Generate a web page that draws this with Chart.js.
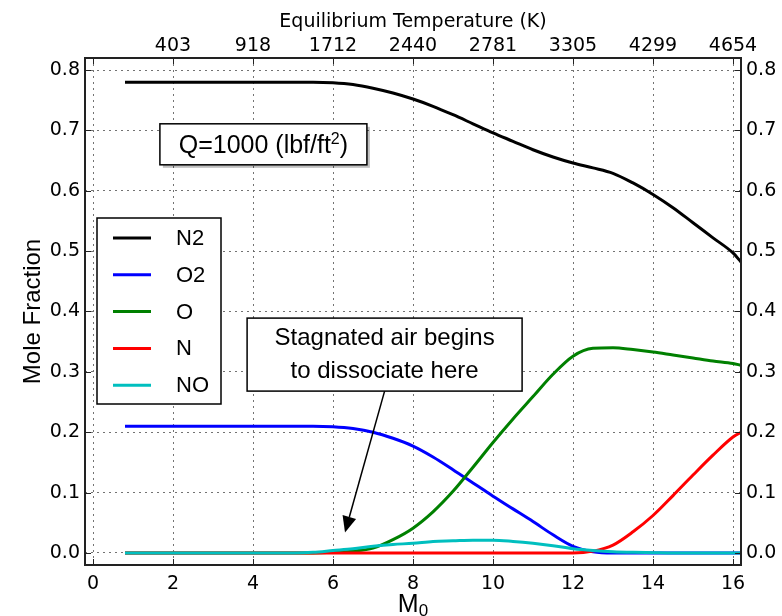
<!DOCTYPE html>
<html>
<head>
<meta charset="utf-8">
<script src="https://cdn.jsdelivr.net/npm/chart.js@4.4.0/dist/chart.umd.min.js"></script>
<style>
  html, body { margin: 0; padding: 0; background: #fff; }
  canvas { display: block; }
</style>
</head>
<body>
<canvas id="chart" width="782" height="616"></canvas>
<script>
// Mach number (free stream) samples
const machNumbers = [0.8, 2, 4, 5, 5.5, 6, 6.5, 7, 7.5, 8, 8.5, 9, 9.5, 10, 10.5, 11, 11.5, 12, 12.5, 13, 13.5, 14, 14.5, 15, 15.5, 16, 16.2];

// mole fractions per species
const n2Fraction = [0.78, 0.78, 0.78, 0.78, 0.78, 0.779, 0.776, 0.770, 0.762, 0.752, 0.740, 0.726, 0.711, 0.696, 0.682, 0.668, 0.656, 0.646, 0.638, 0.629, 0.613, 0.594, 0.572, 0.547, 0.522, 0.497, 0.482];
const o2Fraction = [0.21, 0.21, 0.21, 0.21, 0.21, 0.209, 0.206, 0.200, 0.190, 0.177, 0.159, 0.138, 0.116, 0.094, 0.073, 0.052, 0.030, 0.011, 0.002, 0, 0, 0, 0, 0, 0, 0, 0];
const oFraction = [0, 0, 0, 0, 0, 0.001, 0.003, 0.008, 0.022, 0.041, 0.068, 0.102, 0.142, 0.183, 0.222, 0.259, 0.296, 0.326, 0.339, 0.340, 0.337, 0.333, 0.328, 0.323, 0.318, 0.314, 0.311];
const nFraction = [0, 0, 0, 0, 0, 0, 0, 0, 0, 0, 0, 0, 0, 0, 0, 0, 0, 0, 0.003, 0.013, 0.035, 0.062, 0.095, 0.129, 0.162, 0.192, 0.200];
const noFraction = [0, 0, 0, 0, 0.001, 0.004, 0.007, 0.011, 0.014, 0.016, 0.019, 0.020, 0.021, 0.021, 0.019, 0.016, 0.012, 0.007, 0.004, 0.002, 0.001, 0.0005, 0, 0, 0, 0, 0];

const speciesNames = ['N2', 'O2', 'O', 'N', 'NO'];
const speciesColors = ['#000000', '#0000ff', '#008000', '#ff0000', '#00bfbf'];

// axis ticks
const machTicks = [0, 2, 4, 6, 8, 10, 12, 14, 16];
const tempLabels = ['403', '918', '1712', '2440', '2781', '3305', '4299', '4654'];
const fractionTicks = [0, 0.1, 0.2, 0.3, 0.4, 0.5, 0.6, 0.7, 0.8];

const seriesValues = [n2Fraction, o2Fraction, oFraction, nFraction, noFraction];

function toPoints(values) {
  return machNumbers.map(function (m, i) {
    return { x: m, y: values[i] };
  });
}

const tickFont = { family: '"DejaVu Sans", sans-serif', size: 19 };
const gridColor = 'rgba(100, 100, 100, 0.9)';

function fixedTicks(list) {
  return function (scale) {
    scale.ticks = list.map(function (v) {
      return { value: v };
    });
  };
}

// Draws frame, inward ticks, titles, legend and the text boxes
const overlayPlugin = {
  id: 'overlay',
  afterDraw(chart) {
    const ctx = chart.ctx;
    const a = chart.chartArea;
    const px = (v) => chart.scales.x.getPixelForValue(v);
    const py = (v) => chart.scales.y.getPixelForValue(v);
    ctx.save();

    // inward tick marks
    ctx.strokeStyle = '#222';
    ctx.lineWidth = 1;
    ctx.beginPath();
    machTicks.forEach(function (v) {
      let x = Math.round(px(v)) + 0.5;
      ctx.moveTo(x, a.bottom);
      ctx.lineTo(x, a.bottom - 6);
      ctx.moveTo(x, a.top);
      ctx.lineTo(x, a.top + 6);
    });
    fractionTicks.forEach(function (v) {
      let y = Math.round(py(v)) + 0.5;
      ctx.moveTo(a.left, y);
      ctx.lineTo(a.left + 6, y);
      ctx.moveTo(a.right, y);
      ctx.lineTo(a.right - 6, y);
    });
    ctx.stroke();

    // frame
    ctx.lineWidth = 2;
    ctx.strokeStyle = '#222';
    ctx.strokeRect(a.left, a.top, a.right - a.left, a.bottom - a.top);

    // titles
    ctx.fillStyle = '#000';
    ctx.textAlign = 'center';
    ctx.textBaseline = 'middle';
    ctx.font = '19px "DejaVu Sans", sans-serif';
    ctx.fillText('Equilibrium Temperature (K)', (a.left + a.right) / 2, 22);

    ctx.save();
    ctx.translate(33, (a.top + a.bottom) / 2);
    ctx.rotate(-Math.PI / 2);
    ctx.font = '24px "Liberation Sans", Arial, sans-serif';
    ctx.fillText('Mole Fraction', 0, 0);
    ctx.restore();

    // M0 with subscript
    ctx.textBaseline = 'alphabetic';
    ctx.textAlign = 'left';
    ctx.font = '25px "Liberation Sans", Arial, sans-serif';
    let mW = ctx.measureText('M').width;
    ctx.font = '17px "Liberation Sans", Arial, sans-serif';
    let subW = ctx.measureText('0').width;
    let mx = (a.left + a.right) / 2 - (mW + subW) / 2;
    ctx.font = '25px "Liberation Sans", Arial, sans-serif';
    ctx.fillText('M', mx, 612);
    ctx.font = '17px "Liberation Sans", Arial, sans-serif';
    ctx.fillText('0', mx + mW, 616);

    // legend
    let lx = a.left + 12;
    let ly = a.top + 160;
    ctx.fillStyle = '#fff';
    ctx.fillRect(lx, ly, 124, 186);
    ctx.lineWidth = 1.5;
    ctx.strokeStyle = '#000';
    ctx.strokeRect(lx, ly, 124, 186);
    ctx.font = '22px "Liberation Sans", Arial, sans-serif';
    ctx.textBaseline = 'middle';
    speciesNames.forEach(function (name, i) {
      let ry = ly + 20 + i * 36.8;
      ctx.strokeStyle = speciesColors[i];
      ctx.lineWidth = 3;
      ctx.beginPath();
      ctx.moveTo(lx + 16, ry);
      ctx.lineTo(lx + 54, ry);
      ctx.stroke();
      ctx.fillStyle = '#000';
      ctx.fillText(name, lx + 79, ry + 1);
    });

    // Q box
    let qcx = px(4.26);
    let qcy = py(0.677);
    let qw = 207, qh = 41;
    ctx.fillStyle = 'rgba(0,0,0,0.25)';
    ctx.fillRect(qcx - qw / 2 + 3, qcy - qh / 2 + 3, qw, qh);
    ctx.fillStyle = '#fff';
    ctx.fillRect(qcx - qw / 2, qcy - qh / 2, qw, qh);
    ctx.strokeStyle = '#000';
    ctx.lineWidth = 1.5;
    ctx.strokeRect(qcx - qw / 2, qcy - qh / 2, qw, qh);
    ctx.fillStyle = '#000';
    ctx.textBaseline = 'alphabetic';
    ctx.font = '25px "Liberation Sans", Arial, sans-serif';
    let part1 = 'Q=1000 (lbf/ft';
    let w1 = ctx.measureText(part1).width;
    let w3 = ctx.measureText(')').width;
    ctx.font = '16px "Liberation Sans", Arial, sans-serif';
    let w2 = ctx.measureText('2').width;
    let tx = qcx - (w1 + w2 + w3) / 2;
    let base = qcy + 9;
    ctx.font = '25px "Liberation Sans", Arial, sans-serif';
    ctx.fillText(part1, tx, base);
    ctx.fillText(')', tx + w1 + w2, base);
    ctx.font = '16px "Liberation Sans", Arial, sans-serif';
    ctx.fillText('2', tx + w1, base - 9);

    // note box + arrow
    let ncx = px(7.29);
    let ncy = py(0.3286);
    let nw = 275, nh = 73;
    let sx = ncx, sy = ncy + nh / 2;
    let ex = px(6.3), ey = py(0.034);
    let ang = Math.atan2(ey - sy, ex - sx);
    let headLen = 16, headHalf = 7;
    let bx = ex - headLen * Math.cos(ang);
    let by = ey - headLen * Math.sin(ang);
    ctx.strokeStyle = '#000';
    ctx.lineWidth = 1.5;
    ctx.beginPath();
    ctx.moveTo(sx, sy);
    ctx.lineTo(bx, by);
    ctx.stroke();
    ctx.fillStyle = '#000';
    ctx.beginPath();
    ctx.moveTo(ex, ey);
    ctx.lineTo(bx + headHalf * Math.sin(ang), by - headHalf * Math.cos(ang));
    ctx.lineTo(bx - headHalf * Math.sin(ang), by + headHalf * Math.cos(ang));
    ctx.closePath();
    ctx.fill();

    ctx.fillStyle = '#fff';
    ctx.fillRect(ncx - nw / 2, ncy - nh / 2, nw, nh);
    ctx.strokeRect(ncx - nw / 2, ncy - nh / 2, nw, nh);
    ctx.fillStyle = '#000';
    ctx.textAlign = 'center';
    ctx.textBaseline = 'middle';
    ctx.font = '24px "Liberation Sans", Arial, sans-serif';
    ctx.fillText('Stagnated air begins', ncx, ncy - 16);
    ctx.fillText('to dissociate here', ncx, ncy + 17);

    ctx.restore();
  },
};

const datasets = speciesNames.map(function (name, i) {
  return {
    label: name,
    data: toPoints(seriesValues[i]),
    borderColor: speciesColors[i],
    borderWidth: 3,
    pointRadius: 0,
    fill: false,
    cubicInterpolationMode: 'monotone',
    order: speciesNames.length - i,
  };
});

new Chart(document.getElementById('chart'), {
  type: 'line',
  data: { datasets: datasets },
  plugins: [overlayPlugin],
  options: {
    responsive: false,
    devicePixelRatio: 1,
    animation: false,
    layout: { padding: 0 },
    plugins: {
      legend: { display: false },
      tooltip: { enabled: false },
    },
    scales: {
      x: {
        type: 'linear',
        position: 'bottom',
        min: -0.2,
        max: 16.2,
        afterBuildTicks: fixedTicks(machTicks),
        afterFit: function (s) { s.height = 51; },
        ticks: { font: tickFont, color: '#000', padding: 8, maxRotation: 0 },
        grid: { color: gridColor, lineWidth: 1, drawTicks: false },
        border: { display: false, dash: [2, 4] },
      },
      x2: {
        type: 'linear',
        position: 'top',
        min: -0.2,
        max: 16.2,
        afterBuildTicks: fixedTicks(machTicks.slice(1)),
        afterFit: function (s) { s.height = 58; },
        ticks: {
          font: tickFont,
          color: '#000',
          padding: 1,
          maxRotation: 0,
          callback: function (v, i) { return tempLabels[i]; },
        },
        grid: { display: false, drawTicks: false },
        border: { display: false },
      },
      y: {
        type: 'linear',
        position: 'left',
        min: -0.02,
        max: 0.82,
        afterBuildTicks: fixedTicks(fractionTicks),
        afterFit: function (s) { s.width = 85; },
        ticks: {
          font: tickFont,
          color: '#000',
          padding: 5,
          callback: function (v) { return v.toFixed(1); },
        },
        grid: { color: gridColor, lineWidth: 1, drawTicks: false },
        border: { display: false, dash: [2, 4] },
      },
      y2: {
        type: 'linear',
        position: 'right',
        min: -0.02,
        max: 0.82,
        afterBuildTicks: fixedTicks(fractionTicks),
        afterFit: function (s) { s.width = 41; },
        ticks: {
          font: tickFont,
          color: '#000',
          padding: 5,
          callback: function (v) { return v.toFixed(1); },
        },
        grid: { display: false, drawTicks: false },
        border: { display: false },
      },
    },
  },
});
</script>
</body>
</html>
